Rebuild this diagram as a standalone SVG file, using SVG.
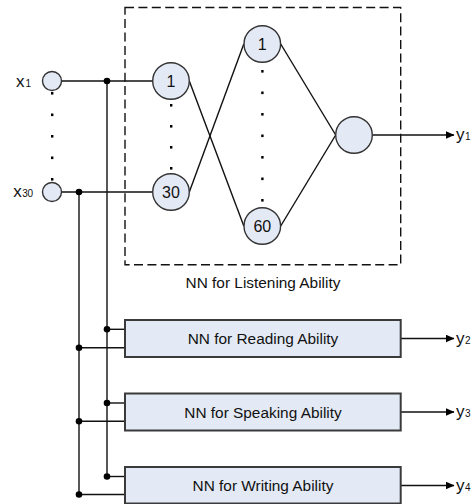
<svg xmlns="http://www.w3.org/2000/svg" width="473" height="504" viewBox="0 0 473 504">
  <defs>
    <style>
      .neuron { fill: #E4EAF5; stroke: #333; stroke-width: 1.4; }
      .block { fill: #E4EAF5; stroke: #3a3a3a; stroke-width: 2; }
      .wire { fill: none; stroke: #111; stroke-width: 1.4; }
      .dash { fill: none; stroke: #111; stroke-width: 1.4; stroke-dasharray: 9 4.4; }
      .dot { fill: #000; }
      .lbl { font-family: "Liberation Sans", Arial, sans-serif; fill: #111; }
      .big { font-size: 15.4px; text-anchor: middle; }
      .num { font-size: 16px; text-anchor: middle; }
      .var { font-size: 17px; }
      .sub { font-size: 10px; }
    </style>
    <marker id="arrow" markerWidth="9" markerHeight="8" refX="8.5" refY="4" orient="auto" markerUnits="userSpaceOnUse">
      <path d="M0,0 L9,4 L0,8 Z" fill="#000"/>
    </marker>
  </defs>

  <!-- Listening-ability network frame -->
  <rect class="dash" x="125" y="7.5" width="275.7" height="257.2"/>
  <text class="lbl big" x="263" y="288">NN for Listening Ability</text>

  <!-- connectors -->
  <g id="connectors">
    <!-- inputs to first layer -->
    <line class="wire" x1="61.5" y1="81" x2="152.7" y2="81"/>
    <line class="wire" x1="61.5" y1="192" x2="152.7" y2="192"/>
    <!-- input buses -->
    <line class="wire" x1="107" y1="81" x2="107" y2="476.5"/>
    <line class="wire" x1="79" y1="192" x2="79" y2="494.5"/>
    <!-- first layer to second layer -->
    <line class="wire" x1="189.3" y1="81" x2="243.8" y2="226"/>
    <line class="wire" x1="189.3" y1="192" x2="243.8" y2="44"/>
    <!-- second layer to output neuron -->
    <line class="wire" x1="280.7" y1="44" x2="335.7" y2="135"/>
    <line class="wire" x1="280.7" y1="226" x2="335.7" y2="135"/>
    <!-- output y1 -->
    <line class="wire" x1="372.3" y1="135" x2="454" y2="135" marker-end="url(#arrow)"/>
    <!-- bus taps into the other networks -->
    <line class="wire" x1="107" y1="329.3" x2="125" y2="329.3"/>
    <line class="wire" x1="79" y1="347.7" x2="125" y2="347.7"/>
    <line class="wire" x1="107" y1="403" x2="125" y2="403"/>
    <line class="wire" x1="79" y1="421.3" x2="125" y2="421.3"/>
    <line class="wire" x1="107" y1="476.5" x2="125" y2="476.5"/>
    <line class="wire" x1="79" y1="494.5" x2="125" y2="494.5"/>
    <!-- outputs y2..y4 -->
    <line class="wire" x1="400.7" y1="338.5" x2="454" y2="338.5" marker-end="url(#arrow)"/>
    <line class="wire" x1="400.7" y1="412" x2="454" y2="412" marker-end="url(#arrow)"/>
    <line class="wire" x1="400.7" y1="485.5" x2="454" y2="485.5" marker-end="url(#arrow)"/>
    <!-- junction dots -->
    <circle class="dot" cx="107" cy="81" r="3.3"/>
    <circle class="dot" cx="79" cy="192" r="3.3"/>
    <circle class="dot" cx="107" cy="329.3" r="3.3"/>
    <circle class="dot" cx="79" cy="347.7" r="3.3"/>
    <circle class="dot" cx="107" cy="403" r="3.3"/>
    <circle class="dot" cx="79" cy="421.3" r="3.3"/>
    <circle class="dot" cx="107" cy="476.5" r="3.3"/>
    <circle class="dot" cx="79" cy="494.5" r="3.3"/>
  </g>

  <!-- input neurons -->
  <g id="input-x1">
    <circle class="neuron" cx="52" cy="81" r="9.5"/>
    <text class="lbl" x="16" y="87.3"><tspan class="var">x</tspan><tspan class="sub" dx="1">1</tspan></text>
  </g>
  <g id="input-x30">
    <circle class="neuron" cx="52" cy="192" r="9.5"/>
    <text class="lbl" x="13.3" y="197"><tspan class="var">x</tspan><tspan class="sub" dx="0.5" letter-spacing="-0.4">30</tspan></text>
  </g>
  <g id="input-ellipsis">
    <rect class="dot" x="51" y="92" width="2.4" height="2.6"/>
    <rect class="dot" x="51" y="113.5" width="2.4" height="2.6"/>
    <rect class="dot" x="51" y="135" width="2.4" height="2.6"/>
    <rect class="dot" x="51" y="156.5" width="2.4" height="2.6"/>
    <rect class="dot" x="51" y="178" width="2.4" height="2.6"/>
  </g>

  <!-- first hidden layer -->
  <g id="h1-1">
    <circle class="neuron" cx="171" cy="81" r="18.3"/>
    <text class="lbl num" x="171" y="86.8">1</text>
  </g>
  <g id="h1-30">
    <circle class="neuron" cx="171" cy="192" r="18.3"/>
    <text class="lbl num" x="171" y="197.8">30</text>
  </g>
  <g id="h1-ellipsis">
    <rect class="dot" x="170" y="104" width="2.4" height="2.6"/>
    <rect class="dot" x="170" y="125" width="2.4" height="2.6"/>
    <rect class="dot" x="170" y="146" width="2.4" height="2.6"/>
    <rect class="dot" x="170" y="167" width="2.4" height="2.6"/>
  </g>

  <!-- second hidden layer -->
  <g id="h2-1">
    <circle class="neuron" cx="262.3" cy="44" r="18.3"/>
    <text class="lbl num" x="262.3" y="49.8">1</text>
  </g>
  <g id="h2-60">
    <circle class="neuron" cx="262.3" cy="226" r="18.3"/>
    <text class="lbl num" x="262.3" y="231.8">60</text>
  </g>
  <g id="h2-ellipsis">
    <rect class="dot" x="261.2" y="70" width="2.4" height="2.6"/>
    <rect class="dot" x="261.2" y="91.5" width="2.4" height="2.6"/>
    <rect class="dot" x="261.2" y="113" width="2.4" height="2.6"/>
    <rect class="dot" x="261.2" y="134.5" width="2.4" height="2.6"/>
    <rect class="dot" x="261.2" y="156" width="2.4" height="2.6"/>
    <rect class="dot" x="261.2" y="177.5" width="2.4" height="2.6"/>
    <rect class="dot" x="261.2" y="199" width="2.4" height="2.6"/>
  </g>

  <!-- output neuron -->
  <g id="out-neuron">
    <circle class="neuron" cx="354" cy="135" r="18.3"/>
  </g>

  <!-- other ability networks -->
  <g id="nn-reading">
    <rect class="block" x="125" y="320" width="275.7" height="37"/>
    <text class="lbl big" x="263" y="344">NN for Reading Ability</text>
  </g>
  <g id="nn-speaking">
    <rect class="block" x="125" y="393.5" width="275.7" height="37"/>
    <text class="lbl big" x="263" y="417.5">NN for Speaking Ability</text>
  </g>
  <g id="nn-writing">
    <rect class="block" x="125" y="467" width="275.7" height="36.5"/>
    <text class="lbl big" x="263" y="491">NN for Writing Ability</text>
  </g>

  <!-- output labels -->
  <g id="outputs">
    <text class="lbl" x="456" y="140"><tspan class="var">y</tspan><tspan class="sub" dx="0.5">1</tspan></text>
    <text class="lbl" x="456" y="343.5"><tspan class="var">y</tspan><tspan class="sub" dx="0.5">2</tspan></text>
    <text class="lbl" x="456" y="417"><tspan class="var">y</tspan><tspan class="sub" dx="0.5">3</tspan></text>
    <text class="lbl" x="456" y="490.5"><tspan class="var">y</tspan><tspan class="sub" dx="0.5">4</tspan></text>
  </g>
</svg>
